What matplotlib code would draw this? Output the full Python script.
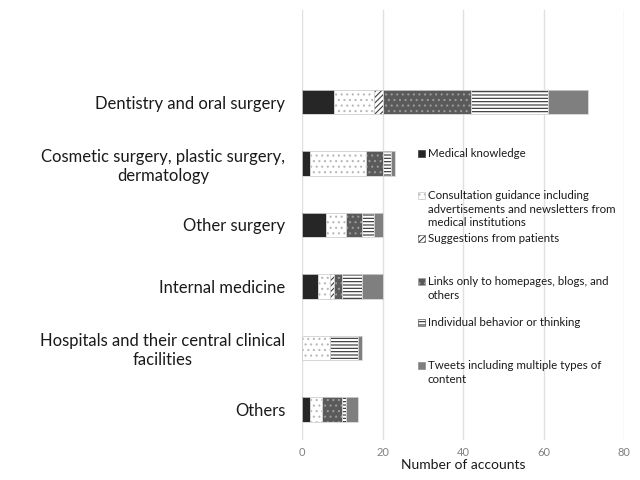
import matplotlib
matplotlib.use("Agg")
import matplotlib.pyplot as plt
from matplotlib.patches import Rectangle

plt.rcParams['font.family'] = ['Lato', 'DejaVu Sans']
plt.rcParams['hatch.linewidth'] = 0.8

categories = ["Dentistry and oral surgery",
              "Cosmetic surgery, plastic surgery,\ndermatology",
              "Other surgery",
              "Internal medicine",
              "Hospitals and their central clinical\nfacilities",
              "Others"]
series_names = ["Medical knowledge",
                "Consultation guidance including\nadvertisements and newsletters from\nmedical institutions",
                "Suggestions from patients",
                "Links only to homepages, blogs, and\nothers",
                "Individual behavior or thinking",
                "Tweets including multiple types of\ncontent"]
medical = [8, 2, 6, 4, 0, 2]
consultation = [10, 14, 5, 3, 7, 3]
suggestions = [2, 0, 0, 1, 0, 0]
links = [22, 4, 4, 2, 0, 5]
individual = [19, 2, 3, 5, 7, 1]
tweets = [10, 1, 2, 5, 1, 3]
series = [medical, consultation, suggestions, links, individual, tweets]
xticks = [0, 20, 40, 60, 80]

styles = [
    dict(fc='#262626', hatch=None, hc='#262626'),
    dict(fc='white', hatch='...', hc='#b8b8b8'),
    dict(fc='white', hatch='//////', hc='#404040'),
    dict(fc='#5a5a5a', hatch='...', hc='#9a9a9a'),
    dict(fc='white', hatch='-----', hc='#303030'),
    dict(fc='#7f7f7f', hatch=None, hc='#7f7f7f'),
]

fig = plt.figure(figsize=(6.4, 4.8), dpi=100)
ax = fig.add_axes([302/640, 1-440/480, 322/640, 430/480])

n = len(categories)
ypos = [n - 1 - i for i in range(n)]
left = [0] * n
for vals, st in zip(series, styles):
    ax.barh(ypos, vals, left=left, height=0.4, color=st['fc'],
            hatch=st['hatch'], edgecolor=st['hc'], linewidth=0, zorder=3)
    ax.barh(ypos, vals, left=left, height=0.4, fill=False,
            edgecolor='#d0d0d0', linewidth=0.6, zorder=4)
    left = [a + b for a, b in zip(left, vals)]

ax.set_xlim(0, 80)
ax.set_ylim(-0.5, 6.5)
ax.set_xticks(xticks)
ax.set_xticklabels([str(t) for t in xticks], color='#808080', fontsize=8)
ax.set_yticks(ypos)
ax.set_yticklabels(categories, fontsize=12, ha='right', multialignment='center',
                   color='#1a1a1a')
ax.tick_params(axis='y', length=0, pad=12)
ax.tick_params(axis='x', length=0, pad=5)
ax.grid(axis='x', color='#e0e0e0', linewidth=1, zorder=0)
for s in ax.spines.values():
    s.set_visible(False)
ax.set_xlabel("Number of accounts", fontsize=10, color='#1a1a1a', labelpad=1)

# legend, drawn manually in figure pixel coordinates
leg_tops = [153, 195, 238, 281, 322, 365]
for name, st, ytop in zip(series_names, styles, leg_tops):
    yf = 1 - ytop / 480
    r = Rectangle((418/640, yf - 3.5/480), 7/640, 7/480, transform=fig.transFigure,
                  facecolor=st['fc'], hatch=st['hatch'], edgecolor=st['hc'],
                  linewidth=0.4, zorder=5)
    fig.patches.append(r)
    fig.text(428/640, yf + 5/480, name, fontsize=8.3, color='#1a1a1a', va='top',
             ha='left', linespacing=1.3, transform=fig.transFigure)

fig.savefig("out.png", dpi=100)
